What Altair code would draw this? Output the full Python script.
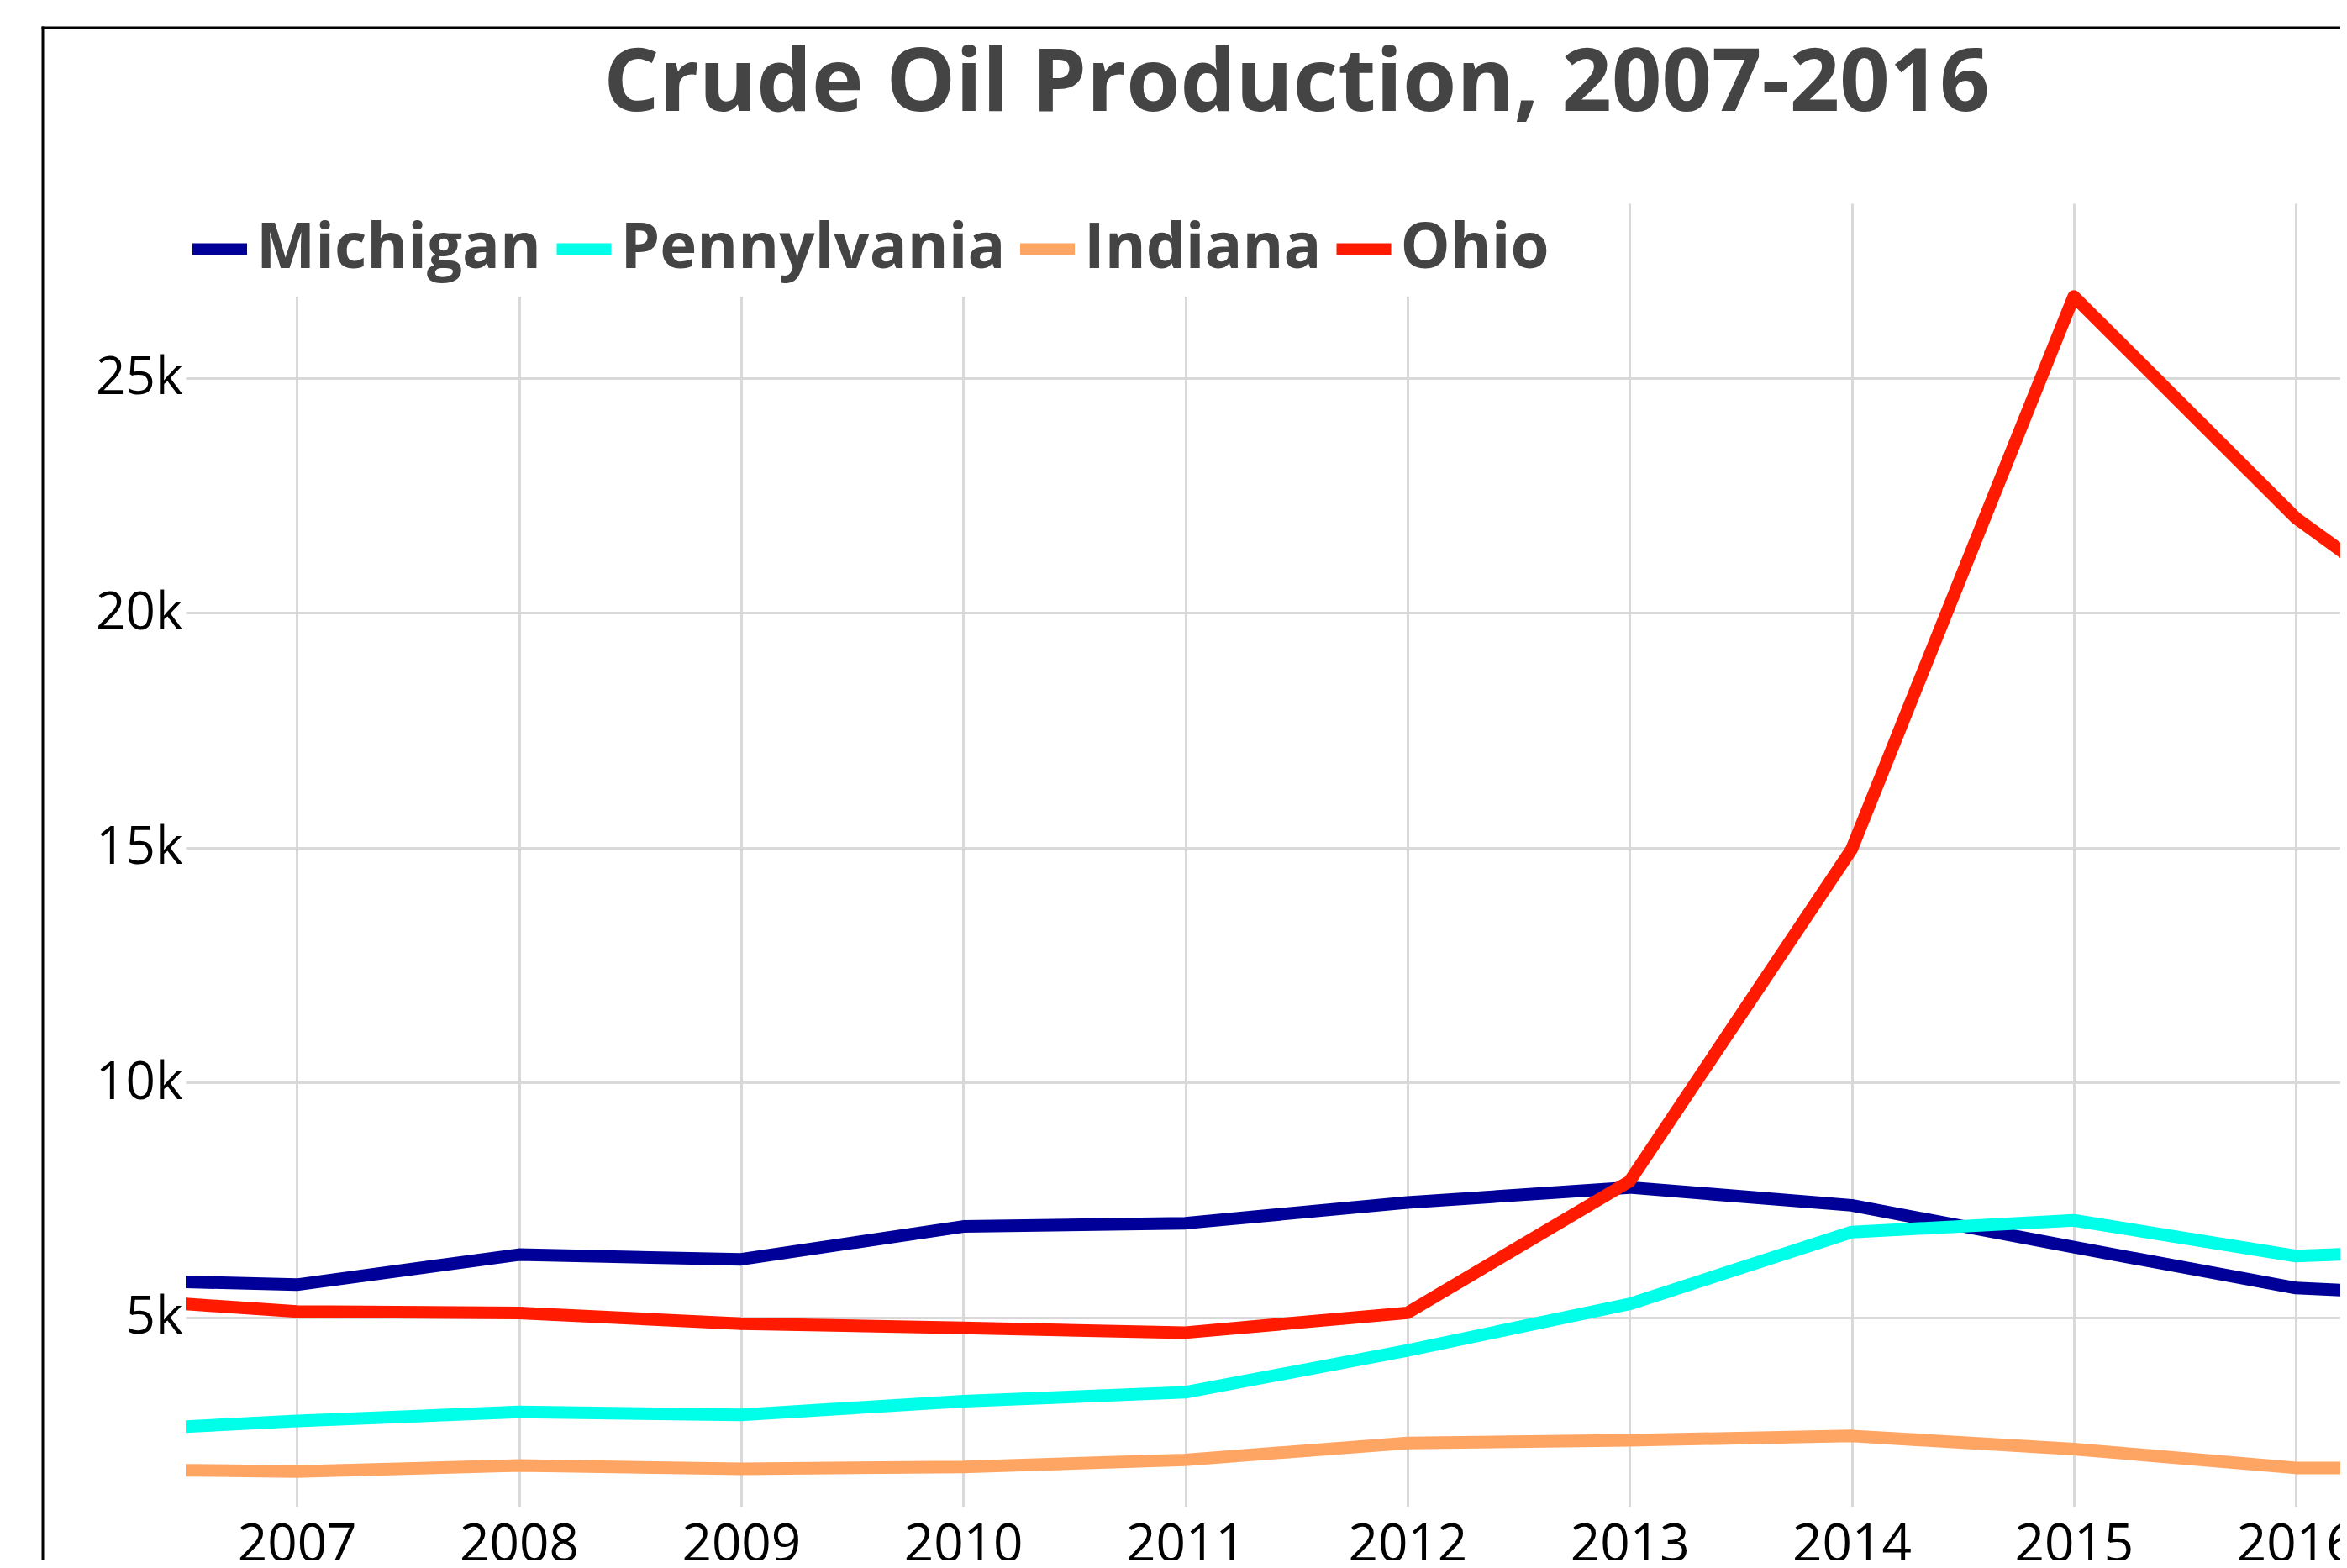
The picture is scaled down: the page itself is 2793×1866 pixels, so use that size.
import altair as alt
import pandas as pd

years = [2006, 2007, 2008, 2009, 2010, 2011, 2012, 2013, 2014, 2015, 2016, 2017]
states = ["Michigan", "Pennylvania", "Indiana", "Ohio"]
colors = ["#000099", "#00FFE8", "#FFA564", "#FF1A00"]

michigan = [5820, 5700, 6340, 6240, 6940, 7010, 7450, 7770, 7390, 6500, 5630, 5400]
pennsylvania = [2560, 2800, 2990, 2930, 3220, 3410, 4300, 5290, 6820, 7070, 6310, 6480]
indiana = [1780, 1720, 1850, 1780, 1820, 1970, 2330, 2390, 2480, 2200, 1800, 1800]
ohio = [5450, 5130, 5100, 4870, 4780, 4680, 5100, 7900, 14970, 26740, 22020, 18600]

x_ticks = [2007, 2008, 2009, 2010, 2011, 2012, 2013, 2014, 2015, 2016]
y_ticks = [5000, 10000, 15000, 20000, 25000]

series = [michigan, pennsylvania, indiana, ohio]
rows = []
for s, vals in zip(states, series):
    for yr, v in zip(years, vals):
        rows.append({"Year": yr, "State": s, "Production": v})
df = pd.DataFrame(rows)

W = 2572
H = 1551

lines = alt.Chart(df).mark_line(strokeWidth=15, clip=True, strokeJoin="round").encode(
    x=alt.X("Year:Q",
            scale=alt.Scale(domain=[2006.5, 2016.23], nice=False, zero=False),
            axis=alt.Axis(values=x_ticks, format="d", title=None, ticks=False, domain=False,
                          labelPadding=15, labelFlush=False, labelOverlap=False)),
    y=alt.Y("Production:Q",
            scale=alt.Scale(domain=[975, 28720], nice=False, zero=False),
            axis=alt.Axis(values=y_ticks, format="~s", title=None, ticks=False, domain=False,
                          labelPadding=4)),
    color=alt.Color("State:N",
                    scale=alt.Scale(domain=states, range=colors),
                    sort=states,
                    legend=alt.Legend(title=None, orient="none", direction="horizontal",
                                      legendX=-19, legendY=-5, padding=20,
                                      fillColor="white", symbolType="stroke",
                                      symbolSize=4225, symbolStrokeWidth=14,
                                      labelFont="Open Sans", labelFontWeight="bold",
                                      labelFontSize=74.5, labelColor="#444444",
                                      labelOffset=4, columnPadding=-10.5,
                                      labelLimit=1000)),
    order=alt.Order("Year:Q"),
)

# outer chart frame (only the left and top edges fall inside the window)
border_df = pd.DataFrame({"b": [0]})
frame_top = alt.Chart(border_df).mark_rule(stroke="black", strokeWidth=3, clip=False).encode(
    x=alt.value(-171.5), x2=alt.value(W + 400), y=alt.value(-209)
)
frame_left = alt.Chart(border_df).mark_rule(stroke="black", strokeWidth=3, clip=False).encode(
    x=alt.value(-170), y=alt.value(-210.5), y2=alt.value(H + 400)
)

chart = alt.layer(lines, frame_top, frame_left).properties(
    width=W,
    height=H,
    title=alt.Title("Crude Oil Production, 2007-2016", font="Open Sans", fontSize=104,
                    fontWeight="bold", color="#444444", anchor="middle", frame="group",
                    baseline="alphabetic", offset=-205.5, dx=36),
    autosize=alt.AutoSizeParams(type="none"),
    padding={"left": 213, "top": 234, "right": -8, "bottom": 63},
).configure_view(strokeWidth=0).configure_axis(
    labelFont="Open Sans", labelFontSize=62, labelColor="#000000",
    gridColor="#d9d9d9", gridWidth=3,
)

chart.save("out.html", embed_options={"renderer": "svg", "actions": False})
